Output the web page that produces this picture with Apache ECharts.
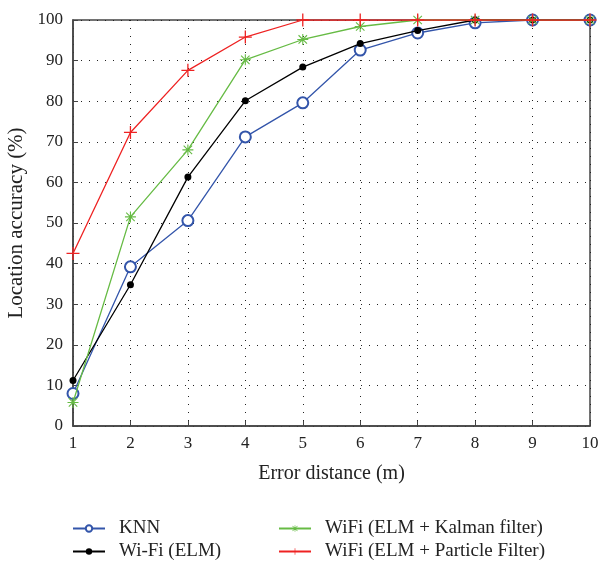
<!DOCTYPE html>
<html><head><meta charset="utf-8">
<script src="https://cdn.jsdelivr.net/npm/echarts@6/dist/echarts.min.js"></script>
<style>html,body{margin:0;padding:0;background:#fff}#c{width:601px;height:563px}</style>
</head><body><div id="c"></div>
<script>
const xValues = [1,2,3,4,5,6,7,8,9,10];
const knn = [8,39.2,50.6,71.2,79.6,92.6,96.8,99.3,100,100];
const wifiElm = [11.2,34.8,61.3,80.1,88.4,94.2,97.4,100,100,100];
const wifiKalman = [5.8,51.5,68,90.2,95.2,98.4,100,100,100,100];
const wifiParticle = [42.5,72.3,87.6,95.8,100,100,100,100,100,100];
const seriesNames = ['KNN','Wi-Fi (ELM)','WiFi (ELM + Kalman filter)','WiFi (ELM + Particle Filter)'];

const plusPath = 'path://M4.5,0L5.5,0L5.5,10L4.5,10ZM0,4.5L10,4.5L10,5.5L0,5.5Z';
const starPath = 'path://M4.5,0L5.5,0L5.5,10L4.5,10ZM0,4.5L10,4.5L10,5.5L0,5.5ZM1.5,0.8L9.2,8.5L8.5,9.2L0.8,1.5ZM8.5,0.8L9.2,1.5L1.5,9.2L0.8,8.5Z';
const font = 'Liberation Serif';
const pts = arr => xValues.map((x,i)=>[x,arr[i]]);

const legendPos = [[67,514],[67,537],[273,514],[273,537]];
const legends = seriesNames.map((n,i)=>({
  data:[n],left:legendPos[i][0],top:legendPos[i][1],itemWidth:32,itemHeight:8,
  textStyle:{fontFamily:font,fontSize:19,color:'#222',padding:[0,0,0,9]}
}));

const chart = echarts.init(document.getElementById('c'), null, {renderer:'canvas'});
chart.setOption({
  animation:false,
  backgroundColor:'#fff',
  textStyle:{fontFamily:font},
  grid:{left:73,right:11,top:20,bottom:137,show:true,borderColor:'#444',borderWidth:1.5,
        containLabel:false,outerBoundsMode:'none'},
  legend:legends,
  xAxis:{type:'value',min:1,max:10,interval:1,
    name:'Error distance (m)',nameLocation:'middle',nameGap:38,
    nameTextStyle:{fontFamily:font,fontSize:20,color:'#222'},
    axisLine:{lineStyle:{color:'#444',width:1.5}},
    axisTick:{inside:true,length:5,lineStyle:{color:'#444'}},
    axisLabel:{fontFamily:font,fontSize:17,color:'#222',margin:9},
    splitLine:{show:true,lineStyle:{type:[1,7],color:'#222',width:1}}},
  yAxis:{type:'value',min:0,max:100,interval:10,
    name:'Location accuracy (%)',nameLocation:'middle',nameGap:45,
    nameTextStyle:{fontFamily:font,fontSize:21,color:'#222'},
    axisLine:{lineStyle:{color:'#444',width:1.5}},
    axisTick:{inside:true,length:5,lineStyle:{color:'#444'}},
    axisLabel:{fontFamily:font,fontSize:17,color:'#222',margin:10},
    splitLine:{show:true,lineStyle:{type:[1,7],color:'#222',width:1}}},
  series:[
    {name:seriesNames[0],type:'line',data:pts(knn),symbol:'emptyCircle',symbolSize:11,
     color:'#3355aa',lineStyle:{width:1.3,color:'#3355aa'},itemStyle:{color:'#3355aa',borderWidth:1.5},z:2},
    {name:seriesNames[1],type:'line',data:pts(wifiElm),symbol:'circle',symbolSize:7,
     color:'#000',lineStyle:{width:1.3,color:'#000'},itemStyle:{color:'#000'},z:3},
    {name:seriesNames[2],type:'line',data:pts(wifiKalman),symbol:starPath,symbolSize:11,
     color:'#66bb44',lineStyle:{width:1.3,color:'#66bb44'},itemStyle:{color:'#66bb44'},z:4},
    {name:seriesNames[3],type:'line',data:pts(wifiParticle),symbol:plusPath,symbolSize:13,
     color:'#ee2222',lineStyle:{width:1.3,color:'#ee2222'},itemStyle:{color:'#ee2222'},z:5}
  ]
});
</script></body></html>
